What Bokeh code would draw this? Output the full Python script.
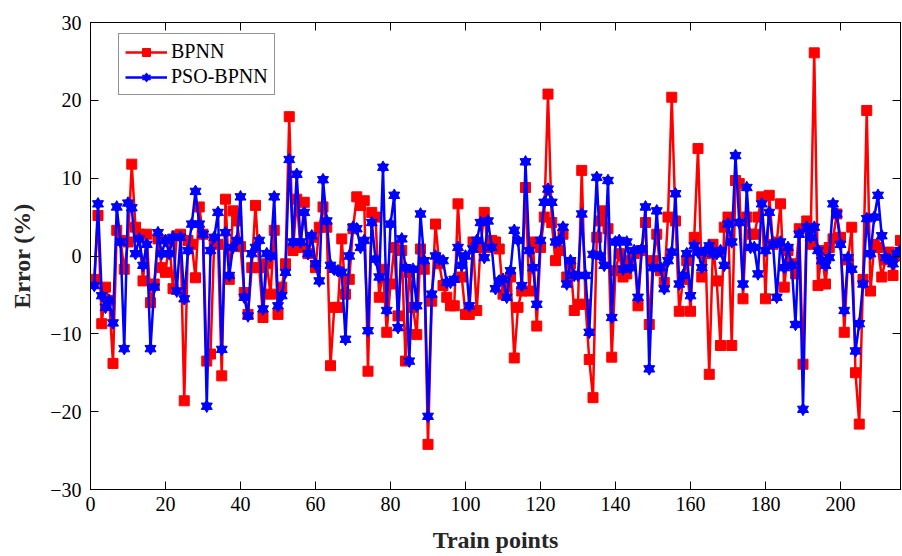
from bokeh.plotting import figure
from bokeh.models import Range1d, FixedTicker, LinearAxis, Legend, LegendItem
from bokeh.embed import file_html
from bokeh.resources import INLINE

# Train point index
train_points = list(range(1, 217))

# BPNN error (%)
bpnn_error = [
    -3.0, 5.2, -8.7, -4.0, -5.7, -13.8, 3.3, 2.0, -1.7, 1.8,
    11.8, 3.7, 2.8, -3.2, 2.8, -6.0, -3.6, 2.2, -1.5, -2.1,
    2.0, -4.2, 2.6, 2.8, -18.6, 2.0, 1.5, -2.8, 6.3, 2.8,
    -13.5, -12.6, 2.0, 1.5, -15.4, 7.3, -3.0, 5.8, 4.5, 1.2,
    -4.7, -7.5, -1.5, 6.5, -1.5, -7.9, -1.0, -4.9, 3.3, -7.5,
    -4.0, -1.0, 17.9, 0.7, 7.3, 1.1, 6.9, 0.3, 2.4, -1.5,
    3.7, 6.3, 3.7, -14.1, -6.6, -6.6, 2.2, -4.9, -3.0, 3.5,
    7.6, 6.5, 7.1, -14.8, 5.6, 5.0, -5.3, -1.7, -9.8, -3.6,
    1.1, -7.7, 0.7, -13.5, -2.1, -6.6, -10.1, 0.9, -1.7, -24.2,
    -5.8, 4.1, -1.0, -3.8, -5.3, -6.4, -6.4, 6.7, -2.7, -7.5,
    -7.5, 1.8, -7.0, 1.1, 5.6, 1.1, 2.0, 1.8, 0.9, -4.9,
    -4.0, -2.7, -13.1, -6.6, -4.5, 8.8, -4.5, 1.8, -9.0, 1.1,
    5.0, 20.8, 4.3, -0.6, 0.7, 2.8, -2.7, -1.0, -7.0, -6.2,
    11.0, -6.2, -13.3, -18.2, 2.4, 4.5, 5.8, 3.5, -13.0, -1.9,
    0.3, -2.7, -2.3, -0.6, 0.3, -6.4, 0.7, 4.3, -8.8, -0.6,
    2.8, -1.9, -3.4, 5.0, 20.4, 4.5, -7.1, -3.0, -0.6, -7.1,
    2.4, 13.8, -2.7, 0.3, -15.2, 1.5, -3.2, -11.5, 3.7, 5.0,
    -11.5, 9.7, 9.3, -5.5, 5.0, 2.8, 2.8, 5.0, 7.6, -5.5,
    7.8, 1.5, 1.8, 6.7, -4.0, 0.7, -1.0, -2.3, 3.5, -13.9,
    4.5, 1.5, 26.1, -3.8, 0.7, -3.6, 1.1, 2.2, 5.4, 2.4,
    -9.8, -0.5, 3.7, -15.0, -21.6, -3.0, 18.7, -4.5, 1.5, 1.1,
    -2.7, -0.5, 0.5, -2.5, 0.0, 2.0,
]

# PSO-BPNN error (%)
pso_error = [
    -3.8, 6.7, -5.1, -6.6, -5.7, -8.6, 6.3, 1.8, -11.9, 6.8,
    6.2, 0.3, 2.2, -1.2, 1.5, -11.9, -4.0, 3.0, 0.3, 2.0,
    0.3, 2.4, -4.5, 2.4, -5.5, 0.7, 4.1, 8.3, 4.1, 2.8,
    -19.3, 0.7, 2.4, 5.6, -12.0, 3.0, -2.5, 1.1, 2.0, 7.6,
    -5.3, -7.7, 0.3, 1.1, 2.0, -6.8, 0.3, 0.0, 7.6, -6.4,
    -5.1, -2.1, 12.4, 1.8, 10.5, 1.8, 5.6, 0.3, 2.6, -1.0,
    -3.2, 9.8, 4.5, -1.2, -1.7, -1.9, -2.1, -10.7, 0.0, 3.7,
    3.5, 1.1, 2.0, -9.6, 4.3, -0.4, -2.7, 11.4, -7.0, 4.1,
    7.8, -9.2, 2.2, -1.5, -13.5, -1.7, -6.4, 5.4, -0.6, -20.6,
    -4.9, 0.0, -0.4, -0.6, -3.4, -3.4, -3.0, 1.1, -1.2, 0.0,
    -6.4, 0.9, 2.0, 4.3, -0.2, 4.5, 1.1, -4.2, -3.2, -3.0,
    -5.3, -1.9, 3.3, 2.0, -3.8, 12.1, 0.7, -1.5, -6.2, 2.0,
    6.9, 8.6, 6.9, 1.8, 2.0, 3.7, -3.6, -0.6, -2.5, -2.5,
    5.4, -2.5, -9.8, 0.2, 10.1, 0.0, -1.2, 9.7, -7.9, 1.8,
    2.0, -1.7, 1.8, -1.5, 0.7, -5.3, 0.9, 6.3, -14.5, -1.5,
    5.8, -1.5, -4.2, -0.6, 0.5, 8.0, -3.6, -2.5, 0.3, -5.1,
    1.3, 0.5, -1.5, 0.7, 1.3, 0.3, 0.3, 0.7, -1.2, 4.1,
    1.8, 12.9, 4.3, -3.6, 8.8, 1.1, 1.1, -2.3, 6.7, 0.7,
    5.6, 1.5, -5.3, 1.8, -1.5, 1.1, -1.2, -8.8, 2.8, -19.7,
    3.7, 2.4, 3.7, 0.7, -0.6, -1.2, -0.2, 6.7, 5.4, 1.5,
    -7.0, -0.2, -1.7, -12.2, -8.7, -3.6, 4.8, 0.3, 5.0, 7.8,
    2.6, -0.2, -0.5, -1.0, 0.3, 0.7,
]

x_ticks = [0, 20, 40, 60, 80, 100, 120, 140, 160, 180, 200]
y_ticks = [-30, -20, -10, 0, 10, 20, 30]

FONT = "Liberation Serif"

p = figure(
    width=902, height=556,
    x_range=Range1d(0, 216), y_range=Range1d(-30, 30),
    output_backend="svg", toolbar_location=None,
    min_border_left=90, min_border_right=2,
    min_border_top=22, min_border_bottom=67,
)
p.xgrid.visible = False
p.ygrid.visible = False
p.outline_line_color = "black"
p.outline_line_width = 1
p.background_fill_color = "white"
p.border_fill_color = "white"

# Main axes
for ax, ticks in ((p.xaxis[0], x_ticks), (p.yaxis[0], y_ticks)):
    ax.ticker = FixedTicker(ticks=ticks)
    ax.major_tick_in = 8
    ax.major_tick_out = 0
    ax.minor_tick_in = 0
    ax.minor_tick_out = 0
    ax.axis_line_color = "black"
    ax.major_tick_line_color = "black"
    ax.major_label_text_font = FONT
    ax.major_label_text_font_size = "20px"
    ax.major_label_text_color = "black"
    ax.axis_label_text_font = FONT
    ax.axis_label_text_font_size = "24px"
    ax.axis_label_text_font_style = "bold"
    ax.axis_label_text_color = "#262626"

p.xaxis.axis_label = "Train points"
p.yaxis.axis_label = "Error (%)"
p.xaxis.major_label_standoff = 7
p.yaxis.major_label_standoff = 9
p.xaxis.axis_label_standoff = 13
p.yaxis.axis_label_standoff = 12

# Mirror ticks on top and right (no labels)
top = LinearAxis(ticker=FixedTicker(ticks=x_ticks),
                 major_label_overrides={t: "" for t in x_ticks})
right = LinearAxis(ticker=FixedTicker(ticks=y_ticks),
                   major_label_overrides={t: "" for t in y_ticks})
for ax in (top, right):
    ax.major_tick_in = 8
    ax.major_tick_out = 0
    ax.minor_tick_in = 0
    ax.minor_tick_out = 0
    ax.major_label_standoff = 0
    ax.axis_line_color = "black"
    ax.major_tick_line_color = "black"
p.add_layout(top, "above")
p.add_layout(right, "right")

# BPNN
r_line = p.line(train_points, bpnn_error, line_color="#FF0000", line_width=2.5)
r_mark = p.scatter(train_points, bpnn_error, marker="square", size=10,
                   fill_color="#FF0000", line_color="#FF0000")

# PSO-BPNN (hexagram = two overlaid triangles)
b_line = p.line(train_points, pso_error, line_color="#0000FF", line_width=2.5)
b_up = p.scatter(train_points, pso_error, marker="triangle", size=11,
                 fill_color="#0000FF", line_color="#0000FF")
b_dn = p.scatter(train_points, pso_error, marker="inverted_triangle", size=11,
                 fill_color="#0000FF", line_color="#0000FF")

legend = Legend(
    items=[
        LegendItem(label="BPNN", renderers=[r_line, r_mark]),
        LegendItem(label="PSO-BPNN", renderers=[b_line, b_up, b_dn]),
    ],
    location=(28, 394),
    label_text_font=FONT,
    label_text_font_size="20px",
    label_text_color="black",
    border_line_color="#262626",
    border_line_width=1,
    background_fill_color="white",
    background_fill_alpha=1.0,
    glyph_width=42,
    glyph_height=20,
    spacing=2,
    padding=6,
    margin=0,
    label_standoff=4,
)
p.add_layout(legend, "center")

open("out.html", "w").write(file_html(p, INLINE))
